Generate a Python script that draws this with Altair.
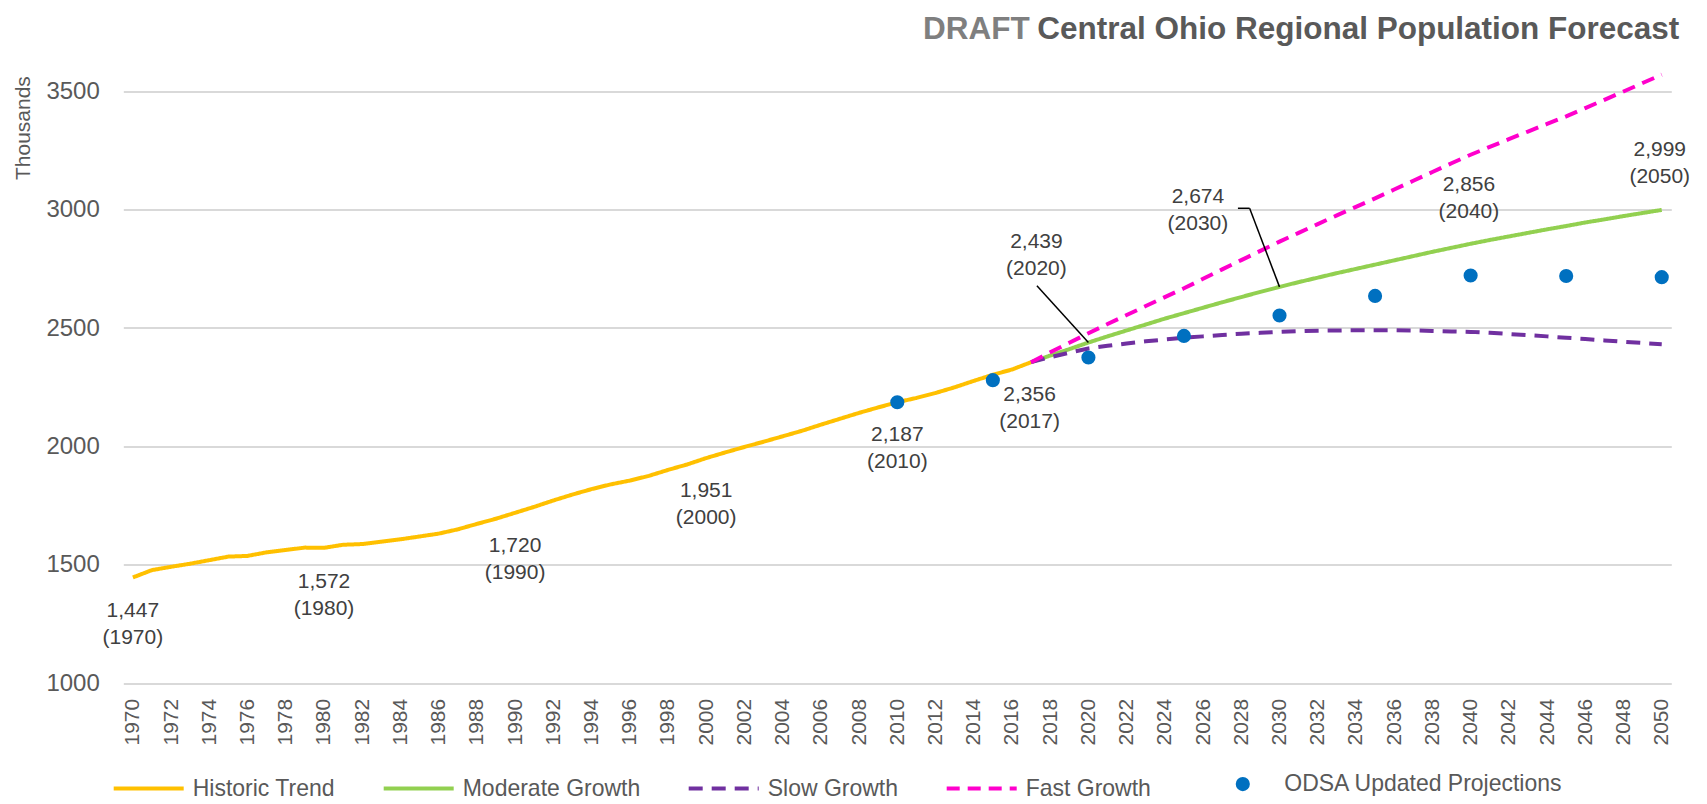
import altair as alt
import pandas as pd

# ---------------- data ----------------
hist_years = list(range(1970, 2018))
hist_vals = [1447, 1478, 1492, 1505, 1520, 1535, 1538, 1553, 1563, 1573,
             1572, 1585, 1588, 1598, 1608, 1620, 1632, 1650, 1673, 1695,
             1720, 1745, 1772, 1797, 1820, 1840, 1856, 1876, 1901, 1924,
             1951, 1975, 1998, 2020, 2043, 2066, 2092, 2117, 2142, 2165,
             2187, 2205, 2226, 2250, 2277, 2303, 2325, 2356]

proj_years = list(range(2017, 2051))
moderate_vals = [2356, 2384, 2411, 2439, 2465, 2490, 2515, 2540, 2563, 2586,
                 2609, 2631, 2653, 2674, 2694, 2713, 2732, 2750, 2768, 2786,
                 2804, 2822, 2839, 2856, 2872, 2887, 2902, 2917, 2931, 2946,
                 2959, 2973, 2986, 2999]
slow_vals = [2356, 2377, 2396, 2414, 2425, 2435, 2444, 2452, 2459, 2465,
             2471, 2476, 2480, 2484, 2487, 2489, 2490, 2491, 2491, 2491,
             2490, 2488, 2486, 2484, 2480, 2475, 2470, 2465, 2459, 2454,
             2448, 2442, 2437, 2432]
fast_vals = [2356, 2398, 2438, 2478, 2517, 2555, 2593, 2631, 2668, 2708,
             2748, 2787, 2826, 2865, 2902, 2939, 2976, 3012, 3048, 3085,
             3122, 3159, 3196, 3232, 3265, 3298, 3330, 3362, 3394, 3429,
             3464, 3499, 3535, 3570]

odsa_years = [2010, 2015, 2020, 2025, 2030, 2035, 2040, 2045, 2050]
odsa_vals = [2187, 2280, 2376, 2467, 2553, 2636, 2722, 2720, 2715]

label_years = [1970, 1980, 1990, 2000, 2010, 2017, 2020, 2030, 2040, 2050]
label_vals = [1447, 1572, 1720, 1951, 2187, 2356, 2439, 2674, 2856, 2999]

series_names = ["Historic Trend", "Moderate Growth", "Slow Growth", "Fast Growth"]
odsa_name = "ODSA Updated Projections"
title_draft = "DRAFT"
title_main = "Central Ohio Regional Population Forecast"
y_title = "Thousands"
y_ticks = [1000, 1500, 2000, 2500, 3000, 3500]
x_ticks = list(range(1970, 2051, 2))

# ---------------- styles ----------------
series_colors = ["#FFC000", "#92D050", "#7030A0", "#FF00CC"]
series_dashes = [[1, 0], [1, 0], [14, 9], [13, 8]]
odsa_color = "#0070C0"
SANS = "Liberation Sans, Arial, sans-serif"
TXT = "#595959"
ANN = "#404040"

# label offsets (px): dx, dy line1, dy line2
label_offsets = {
    1970: (0, 34, 61), 1980: (0, 34, 61), 1990: (0, 33, 60), 2000: (0, 33, 60),
    2010: (0, 33, 60), 2017: (-1.5, 33, 60), 2020: (-52, -101, -74),
    2030: (-81.6, -90, -63), 2040: (-1.7, -59, -32), 2050: (-2, -60, -33),
}

PW, PH = 1548, 615.7

# ---------------- tables ----------------
rows = []
for y, v in zip(hist_years, hist_vals):
    rows.append({"year": y, "value": v, "series": series_names[0]})
for name, vals in zip(series_names[1:], [moderate_vals, slow_vals, fast_vals]):
    for y, v in zip(proj_years, vals):
        rows.append({"year": y, "value": v, "series": name})
lines_df = pd.DataFrame(rows)
odsa_df = pd.DataFrame({"year": odsa_years, "value": odsa_vals, "s2": odsa_name})

xs = alt.Scale(domain=[1969.5, 2050.5], nice=False, zero=False)
ys = alt.Scale(domain=[1000, 3600], nice=False, zero=False)

X = alt.X("year:Q", scale=xs, title=None,
          axis=alt.Axis(values=x_ticks, format="d", labelAngle=270, grid=False,
                        domain=False, ticks=False, labelFont=SANS, labelFontSize=21,
                        labelColor=TXT, labelPadding=15, labelOverlap=False,
                        labelFlush=False, tickCount=41))
Y = alt.Y("value:Q", scale=ys, title=y_title,
          axis=alt.Axis(values=y_ticks, format="d", grid=True, gridColor="#D9D9D9",
                        gridWidth=2, domain=False, ticks=False, labelFont=SANS,
                        labelFontSize=24, labelColor=TXT, labelPadding=24,
                        labelOverlap=False,
                        titleFont=SANS, titleFontSize=21, titleFontWeight="normal",
                        titleColor=TXT, titleAngle=270, titleX=-100, titleY=60,
                        titleAlign="center", titleBaseline="middle"))
Xp = alt.X("year:Q", title=None)
Yp = alt.Y("value:Q", title=y_title)

legend_lines = alt.Legend(title=None, orient="none", legendX=-11.6, legendY=684,
                          direction="horizontal", columns=4, columnPadding=40,
                          symbolType="stroke", symbolSize=4900, symbolStrokeWidth=4,
                          labelFont=SANS, labelFontSize=23, labelColor=TXT,
                          labelOffset=7, labelLimit=400, padding=0)

lines = alt.Chart(lines_df).mark_line(strokeWidth=4).encode(
    x=X, y=Y,
    color=alt.Color("series:N", scale=alt.Scale(domain=series_names, range=series_colors),
                    legend=legend_lines),
    strokeDash=alt.StrokeDash("series:N",
                              scale=alt.Scale(domain=series_names, range=series_dashes),
                              legend=legend_lines),
)

points = alt.Chart(odsa_df).mark_circle(size=200, opacity=1).encode(
    x=Xp, y=Yp,
    fill=alt.Fill("s2:N", scale=alt.Scale(domain=[odsa_name], range=[odsa_color]),
                  legend=alt.Legend(title=None, orient="none", legendX=1108, legendY=705,
                                    symbolType="circle", symbolSize=200, symbolOpacity=1,
                                    labelFont=SANS, labelFontSize=23, labelColor=TXT,
                                    labelOffset=30, labelLimit=400, padding=0)),
)

lab_df = pd.DataFrame({"year": label_years, "value": label_vals})
layers = [lines, points]

# leader lines
lead20 = lab_df[lab_df.year == 2020]
lead30 = lab_df[lab_df.year == 2030]
layers.append(alt.Chart(lead20).mark_rule(color="black", strokeWidth=1.5,
                                          x2Offset=-51.5, y2Offset=-56.8).encode(
    x=Xp, y=Yp, x2=alt.X2("year:Q"), y2=alt.Y2("value:Q")))
layers.append(alt.Chart(lead30).mark_rule(color="black", strokeWidth=1.5,
                                          x2Offset=-29.9, y2Offset=-78.6).encode(
    x=Xp, y=Yp, x2=alt.X2("year:Q"), y2=alt.Y2("value:Q")))
layers.append(alt.Chart(lead30).mark_rule(color="black", strokeWidth=1.5,
                                          xOffset=-29.9, yOffset=-78.6,
                                          x2Offset=-41.6, y2Offset=-78.6).encode(
    x=Xp, y=Yp, x2=alt.X2("year:Q"), y2=alt.Y2("value:Q")))

# annotation labels
for yr, val in zip(label_years, label_vals):
    dx, dy1, dy2 = label_offsets[yr]
    d = pd.DataFrame({"year": [yr], "value": [val],
                      "t1": [f"{val:,}"], "t2": [f"({yr})"]})
    for field, dy in (("t1", dy1), ("t2", dy2)):
        layers.append(alt.Chart(d).mark_text(font=SANS, fontSize=21, color=ANN,
                                             align="center", baseline="middle",
                                             dx=dx, dy=dy).encode(
            x=Xp, y=Yp, text=f"{field}:N"))

# title
tdf = pd.DataFrame({"a": [title_draft], "b": [title_main]})
layers.append(alt.Chart(tdf).mark_text(font=SANS, fontSize=31.5, fontWeight="bold",
                                       color="#7F7F7F", align="left",
                                       baseline="alphabetic").encode(
    x=alt.value(799.7), y=alt.value(-28.3), text="a:N"))
layers.append(alt.Chart(tdf).mark_text(font=SANS, fontSize=31.5, fontWeight="bold",
                                       color=TXT, align="left",
                                       baseline="alphabetic").encode(
    x=alt.value(914), y=alt.value(-28.3), text="b:N"))

chart = alt.layer(*layers).properties(
    width=PW, height=PH,
    autosize=alt.AutoSizeParams(type="none"),
    padding={"left": 115.3, "top": 59.6, "right": 25, "bottom": 125},
).configure_view(stroke=None).configure_axis(labelOverlap=False)

chart.save("out.html", embed_options={"renderer": "svg", "actions": False})
